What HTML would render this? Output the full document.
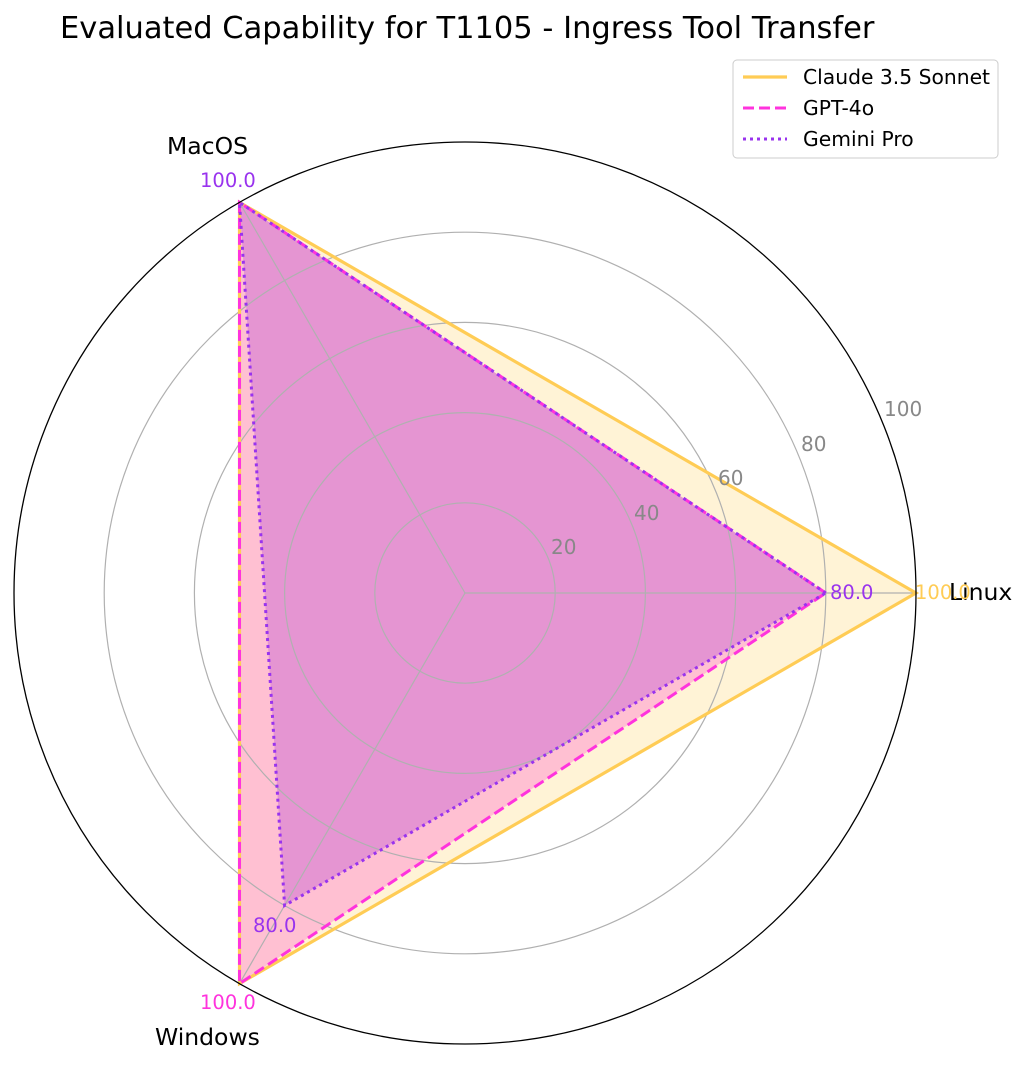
<!DOCTYPE html>
<html><head><meta charset="utf-8"><style>
body{margin:0;background:#fff;}
svg text{font-family:"DejaVu Sans","Liberation Sans",sans-serif;}
</style></head><body>
<svg width="1028" height="1064" xmlns="http://www.w3.org/2000/svg">
<rect width="1028" height="1064" fill="#fff"/>
<text x="60" y="38" font-size="30.5" fill="#000">Evaluated Capability for T1105 - Ingress Tool Transfer</text>
<polygon points="916,593 239.5,202.4 239.5,983.6" fill="rgba(255,200,70,0.22)"/>
<polygon points="825.8,593 239.5,202.4 239.5,983.6" fill="rgba(255,60,200,0.28)"/>
<polygon points="825.8,593 239.5,202.4 284.6,905.5" fill="rgba(175,60,210,0.32)"/>
<g fill="none" stroke="#b0b0b0" stroke-width="1.2">
<circle cx="465" cy="593" r="90.2"/><circle cx="465" cy="593" r="180.4"/>
<circle cx="465" cy="593" r="270.6"/><circle cx="465" cy="593" r="360.8"/>
<line x1="465" y1="593" x2="916" y2="593"/>
<line x1="465" y1="593" x2="239.5" y2="202.4"/>
<line x1="465" y1="593" x2="239.5" y2="983.6"/>
</g>
<polygon points="916,593 239.5,202.4 239.5,983.6" fill="none" stroke="#ffcc55" stroke-width="3.2"/>
<polygon points="825.8,593 239.5,202.4 239.5,983.6" fill="none" stroke="#ff33dd" stroke-width="3" stroke-dasharray="11,5"/>
<polygon points="825.8,593 239.5,202.4 284.6,905.5" fill="none" stroke="#9933ee" stroke-width="3" stroke-dasharray="3,4"/>
<circle cx="465" cy="593" r="451" fill="none" stroke="#000" stroke-width="1.3"/>
<g font-size="20" fill="#888">
<text x="551" y="554">20</text><text x="634" y="520">40</text>
<text x="718" y="485">60</text><text x="801" y="451">80</text>
<text x="884" y="416">100</text>
</g>
<g font-size="23.5" fill="#000">
<text x="949" y="600">Linux</text>
<text x="167" y="154">MacOS</text>
<text x="155" y="1045">Windows</text>
</g>
<g font-size="19.5">
<text x="915" y="599" fill="#ffcc55">100.0</text>
<text x="830" y="599" fill="#9933ee">80.0</text>
<text x="200" y="187" fill="#9933ee">100.0</text>
<text x="253" y="932" fill="#9933ee">80.0</text>
<text x="200" y="1009" fill="#ff33dd">100.0</text>
</g>
<rect x="733" y="60" width="265" height="98" rx="4" fill="#fff" stroke="#ccc"/>
<line x1="743" y1="77" x2="787" y2="77" stroke="#ffcc55" stroke-width="3.2"/>
<line x1="743" y1="108" x2="787" y2="108" stroke="#ff33dd" stroke-width="3" stroke-dasharray="11,5"/>
<line x1="743" y1="139" x2="787" y2="139" stroke="#9933ee" stroke-width="3" stroke-dasharray="3,4"/>
<g font-size="20.3" fill="#000">
<text x="803" y="84">Claude 3.5 Sonnet</text>
<text x="803" y="115">GPT-4o</text>
<text x="803" y="146">Gemini Pro</text>
</g>
</svg>
</body></html>
